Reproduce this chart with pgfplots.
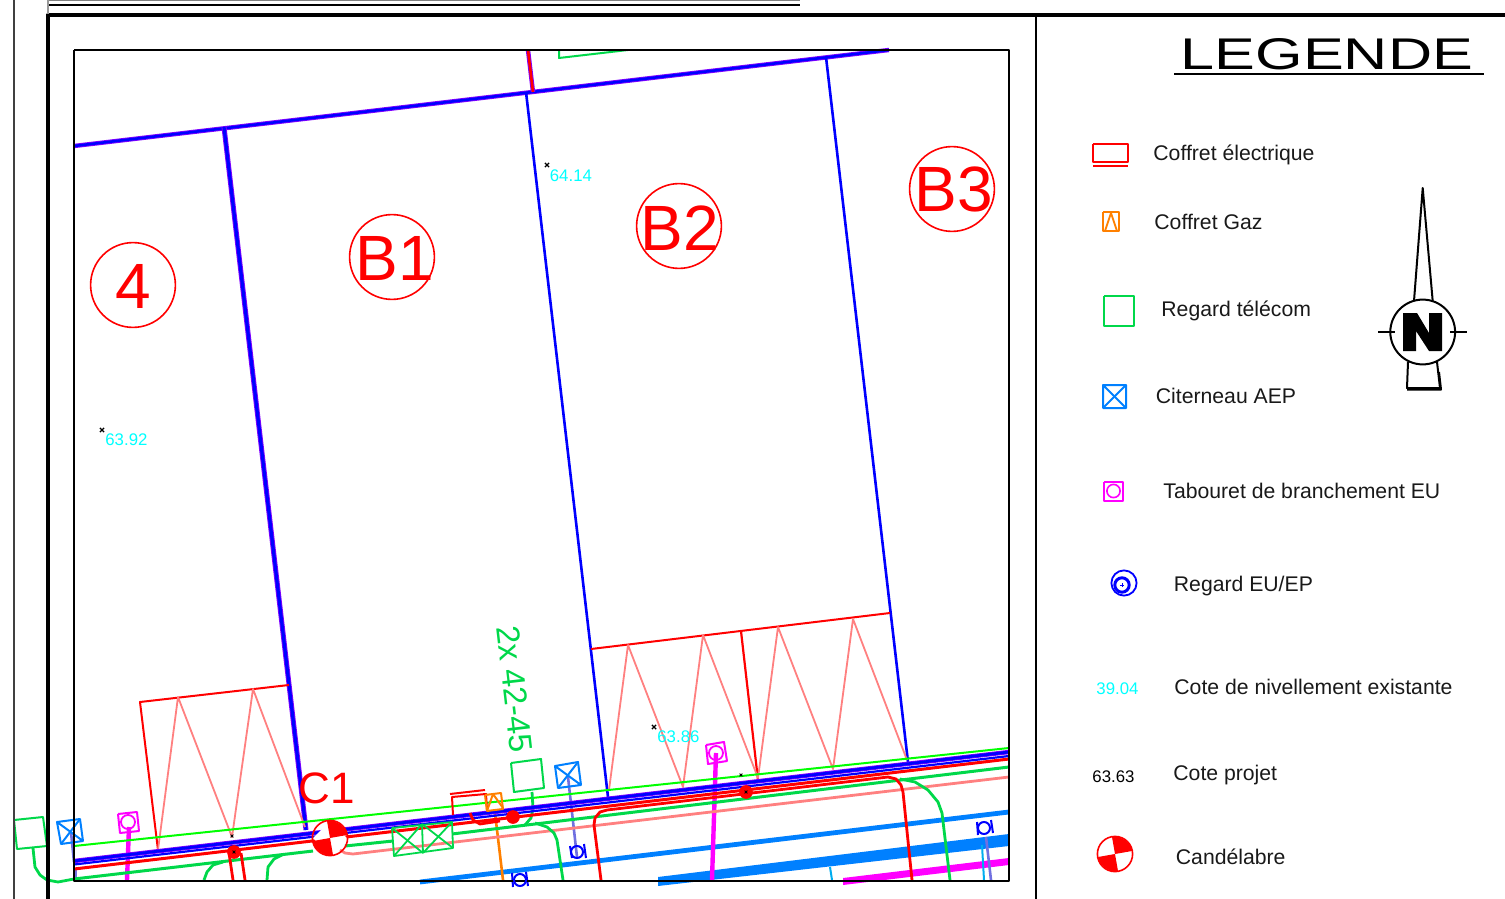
\documentclass[border=0pt]{standalone}
\usepackage{fontspec}
\setmainfont{Liberation Sans}
\usepackage{graphicx}
\usepackage{pgfplots}
\pgfplotsset{compat=1.18}
\definecolor{cadgreen}{HTML}{00D84A}
\definecolor{lime}{HTML}{00FF00}
\definecolor{salmon}{HTML}{FF8080}
\definecolor{pipe}{HTML}{0080FF}
\definecolor{aep}{HTML}{7070E0}
\definecolor{pure}{HTML}{0000FF}
\definecolor{fringe}{HTML}{8000FF}
\definecolor{orangeg}{HTML}{FF8000}
\definecolor{cote}{HTML}{00FFFF}
\definecolor{eu}{HTML}{FF00FF}
\definecolor{rouge}{HTML}{FF0000}
\pgfplotsset{
  ln/.style={line width=#1, line join=round},
  ln/.default=1pt,
  ring/.style 2 args={only marks, mark=o, mark size=#1, mark options={#2}},
}
\tikzset{
  lab/.style={anchor=base west, inner sep=0pt, font=\fontsize{10.6}{12}\selectfont, text=black!90},
  lot/.style={text=rouge, inner sep=0pt, font=\fontsize{32}{32}\selectfont},
  niv/.style={text=cote, anchor=base west, inner sep=0pt, font=\fontsize{8.4}{10}\selectfont},
}
\begin{document}
\begin{tikzpicture}
\begin{axis}[
  scale only axis, width=752.5pt, height=449.5pt,
  xmin=0, xmax=1505, ymin=0, ymax=899, y dir=reverse,
  hide axis, clip=true,
]
\path[use as bounding box] (axis cs:0,0) rectangle (axis cs:1505,899);

% lot boundaries
\addplot[fringe, ln=2.2pt] coordinates {(74,146) (889,50)};
\addplot[pure, ln=1.3pt] coordinates {(74,146) (889,50)};
\addplot[fringe, ln=2.5pt] coordinates {(224,127) (306,830)};
\addplot[pure, ln=1.6pt] coordinates {(224,127) (306,830)};
\addplot[pure, ln=1.3pt] coordinates {(526,92) (608,797)};
\addplot[pure, ln=1.3pt] coordinates {(826,57) (908,762)};
\addplot[fringe, ln=2.2pt] coordinates {(528,50) (533,92)};
\addplot[rouge, ln=1.3pt] coordinates {(528,50) (533,92)};
\addplot[cadgreen, ln=1pt] coordinates {(559,50) (559,58) (628,50)};

% parking bays
\addplot[rouge, ln=1pt] coordinates {(289,685) (140,702) (158,850)};
\addplot[salmon, ln=0.9pt] coordinates {(158,850) (178,697) (232,837) (253,689) (305,827)};
\addplot[rouge, ln=1pt] coordinates {(591,649) (890,613)};
\addplot[rouge, ln=1.1pt] coordinates {(741,631) (758,780)};
\addplot[salmon, ln=0.9pt] coordinates {(609,790) (628,645) (683,787) (703,635) (758,778) (778,627) (833,769) (853,619) (907,760)};

% networks
\addplot[pipe, ln=2.4pt] coordinates {(420,882) (1009,812)};
\addplot[fill=pipe, draw=none] coordinates {(658,877) (1009,834) (1009,846) (658,886)} --cycle;
\addplot[fill=eu, draw=none] coordinates {(843,878) (1009,858) (1009,865) (843,885)} --cycle;
\addplot[eu, ln=2.2pt] coordinates {(129,827) (127,880)};
\addplot[eu, ln=2.2pt] coordinates {(716,753) (712,880)};
\addplot[cyan, ln=1pt] coordinates {(830,867) (832,880)};
\addplot[cyan, ln=1pt] coordinates {(982,845) (984,880)};
\addplot[aep, ln=1.3pt] coordinates {(986,837) (991,880)};
\addplot[aep, ln=1.3pt] coordinates {(568,777) (577,857)};
\addplot[aep, ln=1.3pt] coordinates {(71,832) (74,862)};
\addplot[aep, ln=1.3pt] coordinates {(76,870) (76,880)};
\addplot[orangeg, ln=1.3pt] coordinates {(495,813) (503,880)};
\addplot[lime, ln=1pt] coordinates {(74,846) (1009,748)};
\addplot[salmon, ln=1.4pt] coordinates {(340,850) (345,853) (353,854) (1009,777)};
\addplot[cadgreen, ln=1.5pt] coordinates {(74,879) (313,851)};
\addplot[cadgreen, ln=1.5pt] coordinates {(345,846) (393,841)};
\addplot[cadgreen, ln=1.5pt] coordinates {(452,834) (1009,767)};
\addplot[cadgreen, ln=1.4pt] coordinates {(33,848) (35,867) (40,875) (47,880) (58,882) (74,879)};
\addplot[cadgreen, ln=1.4pt] coordinates {(204,880) (207,872) (213,865) (223,862)};
\addplot[cadgreen, ln=1.4pt] coordinates {(267,880) (268,867) (274,859) (282,855)};
\addplot[cadgreen, ln=1.4pt] coordinates {(532,792) (533,808) (531,818) (525,825)};
\addplot[cadgreen, ln=1.4pt] coordinates {(535,823) (547,827) (554,833) (557,840) (563,880)};
\addplot[cadgreen, ln=1.4pt] coordinates {(900,779) (915,782) (928,790) (938,802) (942,813) (950,880)};
\addplot[rouge, ln=1.4pt] coordinates {(601,880) (594,825) (595,818) (600,812) (607,810) (888,777) (896,779) (901,785) (903,792) (912,880)};
\addplot[rouge, ln=1.4pt] coordinates {(229,853) (233,880)};
\addplot[rouge, ln=1.4pt] coordinates {(241,853) (245,880)};
\addplot[rouge, ln=1.5pt] coordinates {(74,869) (1009,759)};
\addplot[pure, ln=1.1pt] coordinates {(74,864.5) (1009,756)};
\addplot[fringe, ln=2.2pt] coordinates {(74,861) (1009,752)};
\addplot[pure, ln=1.4pt] coordinates {(74,861) (1009,752)};

% red dots on the line
\addplot[only marks, mark=*, mark size=3.2pt, mark options={rouge, draw=rouge}] coordinates {(234,852) (513,817) (746,792)};
\addplot[only marks, mark=x, mark size=1.5pt, mark options={black, line width=0.6pt}] coordinates {(547,165) (102,430) (654,727)};
\addplot[only marks, mark=x, mark size=1pt, mark options={black, line width=0.4pt}] coordinates {(232,836) (741,775) (234,852) (746,792)};

% plot symbols
\addplot[cadgreen, ln=1pt] coordinates {(511,763) (541,759) (544,788) (514,792) (511,763)};
\addplot[cadgreen, ln=1pt] coordinates {(14,820) (43,817) (47,846) (17,849) (14,820)};
\addplot[pipe, ln=1pt] coordinates {(57,822) (80,819) (83,841) (61,844) (57,822) (83,841)};
\addplot[pipe, ln=1pt] coordinates {(80,819) (61,844)};
\addplot[pipe, ln=1pt] coordinates {(555,766) (578,762) (581,785) (558,788) (555,766) (581,785)};
\addplot[pipe, ln=1pt] coordinates {(578,762) (558,788)};
\addplot[eu, ln=1pt] coordinates {(118,814) (137,812) (139,831) (120,833) (118,814)};
\addplot[eu, ln=1pt] coordinates {(706,745) (724,742) (727,761) (708,764) (706,745)};
\addplot[ring={3.5pt}{eu, line width=0.9pt}] coordinates {(128,822) (716,753)};
\addplot[ring={3pt}{pure, line width=1pt}] coordinates {(577,852) (520,880) (984,828)};
\addplot[pure, ln=1pt] coordinates {(570,846) (572,858)};
\addplot[pure, ln=1pt] coordinates {(584,844) (586,858)};
\addplot[pure, ln=1pt] coordinates {(512,873) (513,887)};
\addplot[pure, ln=1pt] coordinates {(526,872) (528,886)};
\addplot[pure, ln=1pt] coordinates {(977,822) (978,835)};
\addplot[pure, ln=1pt] coordinates {(991,820) (993,833)};
\addplot[cadgreen, ln=0.9pt] coordinates {(392,828) (452,822) (453,848) (394,856) (392,828)};
\addplot[cadgreen, ln=0.9pt] coordinates {(422,824) (423,853)};
\addplot[cadgreen, ln=0.9pt] coordinates {(392,828) (423,853)};
\addplot[cadgreen, ln=0.9pt] coordinates {(422,824) (394,856)};
\addplot[cadgreen, ln=0.9pt] coordinates {(422,824) (453,848)};
\addplot[cadgreen, ln=0.9pt] coordinates {(452,822) (423,853)};
\addplot[rouge, ln=1pt] coordinates {(450,794) (485,790)};
\addplot[rouge, ln=1pt] coordinates {(453,815) (452,797) (486,794) (487,810)};
\addplot[rouge, ln=1.4pt] coordinates {(470,813) (473,820) (480,824) (500,821)};
\addplot[orangeg, ln=1pt] coordinates {(485,795) (501,793) (503,809) (487,811) (485,795)};
\addplot[orangeg, ln=1pt] coordinates {(487,811) (493,794) (503,808)};

% lamp post C1
\addplot[fill=white, draw=none] coordinates {(313,838) (330,821) (347,838) (330,855)} --cycle;
\addplot[fill=rouge, draw=none] coordinates {(330,838) (327,821) (334,821) (340,824) (345,829) (347,835)} --cycle;
\addplot[fill=rouge, draw=none] coordinates {(330,838) (333,855) (326,855) (320,852) (315,847) (313,841)} --cycle;
\addplot[ring={8.8pt}{rouge, line width=0.8pt}] coordinates {(330,838)};

% lot circles
\addplot[ring={21.2pt}{rouge, line width=0.8pt}] coordinates {(133,285) (392,257) (679,226) (952,189)};
\node[lot] at (axis cs:133.5,286) {4};
\node[lot] at (axis cs:395,258) {B1};
\node[lot] at (axis cs:680,228) {B2};
\node[lot] at (axis cs:954,189) {B3};
\node[text=rouge, inner sep=0pt, font=\fontsize{22}{22}\selectfont] at (axis cs:327,788) {C1};
\node[text=cadgreen, inner sep=0pt, rotate=-83.4, font=\fontsize{16.3}{16.3}\selectfont] at (axis cs:514.5,689) {2x 42-45};
\node[niv] at (axis cs:549.5,181.5) {64.14};
\node[niv] at (axis cs:105,445) {63.92};
\node[niv] at (axis cs:657,742) {63.86};

% frames
\addplot[black, ln=1.1pt] coordinates {(74,50) (1009,50) (1009,881) (74,881) (74,50)};
\addplot[black!75, ln=1.2pt] coordinates {(14,0) (14,899)};
\addplot[black, ln=2pt] coordinates {(47.5,899) (47.5,15.5) (1505,15.5)};
\addplot[black!40, ln=0.7pt] coordinates {(48,0) (48,14)};
\addplot[black, ln=0.8pt] coordinates {(49,5) (800,5)};
\addplot[black!50, ln=0.8pt] coordinates {(49,0.5) (800,0.5)};
\addplot[black, ln=1pt] coordinates {(1036,15) (1036,899)};

% legend title
\node[anchor=base west, inner sep=0pt] at (axis cs:1180.5,69.5) {\resizebox{146pt}{15.5pt}{LEGENDE}};
\addplot[black, ln=1pt] coordinates {(1174,74.5) (1484,74.5)};

% legend symbols
\addplot[rouge, ln=0.9pt] coordinates {(1093,144) (1128,144) (1128,162) (1093,162) (1093,144)};
\addplot[rouge, ln=0.8pt] coordinates {(1093,166) (1128,166)};
\addplot[orangeg, ln=1pt] coordinates {(1103,212) (1119,212) (1119,231) (1103,231) (1103,212)};
\addplot[orangeg, ln=0.9pt] coordinates {(1105,231) (1111,213) (1117,231)};
\addplot[cadgreen, ln=1pt] coordinates {(1104,296) (1134,296) (1134,326) (1104,326) (1104,296)};
\addplot[pipe, ln=1pt] coordinates {(1103,385) (1126,385) (1126,408) (1103,408) (1103,385) (1126,408)};
\addplot[pipe, ln=1pt] coordinates {(1126,385) (1103,408)};
\addplot[eu, ln=1pt] coordinates {(1104,482) (1123,482) (1123,501) (1104,501) (1104,482)};
\addplot[ring={3.3pt}{eu, line width=0.8pt}] coordinates {(1113.5,491)};
\addplot[ring={6.3pt}{pure, line width=0.9pt}] coordinates {(1124,583)};
\addplot[ring={3.6pt}{pure, line width=1.5pt}] coordinates {(1122,585)};
\addplot[only marks, mark=+, mark size=1pt, mark options={pure, line width=0.4pt}] coordinates {(1122,585)};
\addplot[fill=white, draw=none] coordinates {(1098,854) (1115,837) (1132,854) (1115,871)} --cycle;
\addplot[fill=rouge, draw=none] coordinates {(1115,854) (1112,837) (1119,837) (1125,840) (1130,845) (1132,851)} --cycle;
\addplot[fill=rouge, draw=none] coordinates {(1115,854) (1118,871) (1111,871) (1105,868) (1100,863) (1098,857)} --cycle;
\addplot[ring={8.8pt}{rouge, line width=0.8pt}] coordinates {(1115,854)};

% north arrow
\addplot[black, ln=1pt] coordinates {(1414,301) (1422.7,188) (1432.7,301)};
\addplot[ring={16.2pt}{black, line width=1pt}] coordinates {(1422.7,332)};
\addplot[black, ln=0.8pt] coordinates {(1378,332) (1395,332)};
\addplot[black, ln=0.8pt] coordinates {(1450,332) (1467,332)};
\addplot[fill=black, draw=none] coordinates {(1403,313) (1417,313) (1429,333) (1429,313) (1442,313) (1442,351) (1429,351) (1416,331) (1416,351) (1403,351)} --cycle;
\addplot[black, ln=1pt] coordinates {(1408,362) (1407,388) (1440,388) (1437,362)};
\addplot[black, ln=1pt] coordinates {(1407,389.5) (1441,389.5) (1439,372)};

% legend texts
\node[lab] at (axis cs:1153,160.5) {Coffret électrique};
\node[lab] at (axis cs:1154,229) {Coffret Gaz};
\node[lab] at (axis cs:1161,316) {Regard télécom};
\node[lab] at (axis cs:1155.5,403) {Citerneau AEP};
\node[lab] at (axis cs:1163,498) {Tabouret de branchement EU};
\node[lab] at (axis cs:1173.5,591) {Regard EU/EP};
\node[niv] at (axis cs:1096,694) {39.04};
\node[lab] at (axis cs:1174,694) {Cote de nivellement existante};
\node[anchor=base west, inner sep=0pt, font=\fontsize{8.4}{10}\selectfont] at (axis cs:1092,782) {63.63};
\node[lab] at (axis cs:1173,780) {Cote projet};
\node[lab] at (axis cs:1175.5,864) {Candélabre};
\end{axis}
\end{tikzpicture}
\end{document}
